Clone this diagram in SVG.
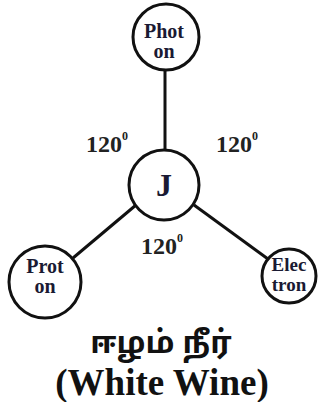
<svg xmlns="http://www.w3.org/2000/svg" width="323" height="402" viewBox="0 0 323 402">
<rect width="323" height="402" fill="#fff"/>
<g id="connectors" stroke="#111" stroke-width="3">
<line x1="165" y1="70" x2="165" y2="150"/>
<line x1="136" y1="205" x2="73" y2="258"/>
<line x1="194" y1="205" x2="268" y2="259"/>
</g>
<g id="photon"><circle cx="166" cy="37" r="33" fill="#fff" stroke="#111" stroke-width="3"/><text x="164" y="38" font-family="Liberation Serif, serif" font-weight="bold" font-size="20" fill="#1a1a33" text-anchor="middle">Phot</text><text x="164" y="58" font-family="Liberation Serif, serif" font-weight="bold" font-size="20" fill="#1a1a33" text-anchor="middle">on</text></g>
<g id="j"><circle cx="164" cy="185" r="35" fill="#fff" stroke="#111" stroke-width="3"/><text x="164" y="196" font-family="Liberation Serif, serif" font-weight="bold" font-size="32" fill="#1a1a33" text-anchor="middle">J</text></g>
<g id="proton"><circle cx="45" cy="282" r="36" fill="#fff" stroke="#111" stroke-width="3"/><text x="45" y="273" font-family="Liberation Serif, serif" font-weight="bold" font-size="20" fill="#1a1a33" text-anchor="middle">Prot</text><text x="45" y="293" font-family="Liberation Serif, serif" font-weight="bold" font-size="20" fill="#1a1a33" text-anchor="middle">on</text></g>
<g id="electron"><circle cx="289" cy="276" r="27" fill="#fff" stroke="#111" stroke-width="3"/><text x="289" y="271" font-family="Liberation Serif, serif" font-weight="bold" font-size="19" fill="#1a1a33" text-anchor="middle">Elec</text><text x="289" y="291" font-family="Liberation Serif, serif" font-weight="bold" font-size="19" fill="#1a1a33" text-anchor="middle">tron</text></g>
<text x="86" y="152" font-family="Liberation Serif, serif" font-weight="bold" font-size="24" fill="#222">120<tspan font-size="12" dy="-12">0</tspan></text>
<text x="216" y="152" font-family="Liberation Serif, serif" font-weight="bold" font-size="24" fill="#222">120<tspan font-size="12" dy="-12">0</tspan></text>
<text x="141" y="254" font-family="Liberation Serif, serif" font-weight="bold" font-size="24" fill="#222">120<tspan font-size="12" dy="-12">0</tspan></text>
<text x="161" y="353" font-family="Noto Sans Tamil, sans-serif" font-weight="bold" font-size="31" fill="#111" text-anchor="middle">ஈழம் நீர்</text>
<text x="162" y="395" font-family="Liberation Serif, serif" font-weight="bold" font-size="37" fill="#111" text-anchor="middle">(White Wine)</text>
</svg>
